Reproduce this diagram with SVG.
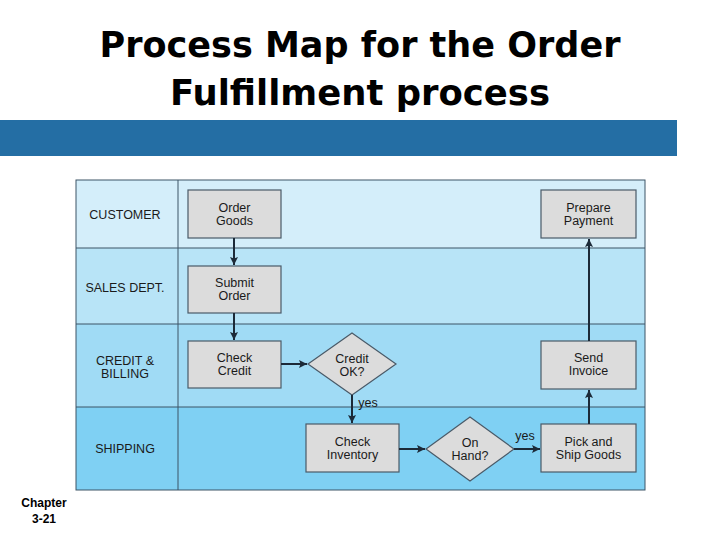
<svg xmlns="http://www.w3.org/2000/svg" width="720" height="540" viewBox="0 0 720 540">
<defs>
<marker id="ah2" viewBox="0 0 10 10" refX="10" refY="5" markerWidth="9" markerHeight="8" orient="auto" markerUnits="userSpaceOnUse">
<path d="M0,0 L10,5 L0,10 L2,5 z" fill="#1c2a38"/>
</marker>
<style>
.title{font-family:"DejaVu Sans",Verdana,sans-serif;font-weight:bold;font-size:35px;fill:#000;text-anchor:middle}
.lane{font-family:"Liberation Sans",Arial,sans-serif;font-size:12.5px;fill:#1a1a1a;text-anchor:middle}
.nt{font-family:"Liberation Sans",Arial,sans-serif;font-size:12.5px;fill:#1a1a1a;text-anchor:middle}
.box{fill:#dcdcdc;stroke:#4a5a68;stroke-width:1.2}
.lline{stroke:#3d5466;stroke-width:1;fill:none}
.conn{stroke:#1c2a38;stroke-width:2;fill:none;marker-end:url(#ah2)}
.foot{font-family:"Liberation Sans",Arial,sans-serif;font-weight:bold;font-size:12px;fill:#000;text-anchor:middle}
</style>
</defs>
<rect width="720" height="540" fill="#fff"/>
<text class="title" x="360" y="57" textLength="521" lengthAdjust="spacingAndGlyphs">Process Map for the Order</text>
<text class="title" x="360" y="105" textLength="380" lengthAdjust="spacingAndGlyphs">Fulfillment process</text>
<rect x="0" y="120" width="677" height="36" fill="#246ea4"/>
<g id="lanes">
<rect x="76" y="180" width="569" height="68" fill="#d4eefa"/>
<rect x="76" y="248" width="569" height="76" fill="#b8e4f7"/>
<rect x="76" y="324" width="569" height="83" fill="#a0dbf5"/>
<rect x="76" y="407" width="569" height="83" fill="#7fd0f3"/>
<rect x="76" y="180" width="569" height="310" class="lline"/>
<line x1="76" y1="248" x2="645" y2="248" class="lline"/>
<line x1="76" y1="324" x2="645" y2="324" class="lline"/>
<line x1="76" y1="407" x2="645" y2="407" class="lline"/>
<line x1="178" y1="180" x2="178" y2="490" class="lline"/>
<text class="lane" x="125" y="219">CUSTOMER</text>
<text class="lane" x="125" y="292">SALES DEPT.</text>
<text class="lane" x="125" y="364.5">CREDIT &amp;</text>
<text class="lane" x="125" y="378">BILLING</text>
<text class="lane" x="125" y="453">SHIPPING</text>
</g>
<g id="order-goods"><rect class="box" x="188" y="190" width="93" height="48"/><text class="nt" x="234.5" y="211.5">Order</text><text class="nt" x="234.5" y="225">Goods</text></g>
<g id="submit-order"><rect class="box" x="188" y="266" width="93" height="47"/><text class="nt" x="234.5" y="286.5">Submit</text><text class="nt" x="234.5" y="300">Order</text></g>
<g id="check-credit"><rect class="box" x="188" y="341" width="93" height="47"/><text class="nt" x="234.5" y="361.5">Check</text><text class="nt" x="234.5" y="375">Credit</text></g>
<g id="credit-ok"><polygon class="box" points="352,333 396,364 352,395 308,364"/><text class="nt" x="352" y="362.5">Credit</text><text class="nt" x="352" y="376">OK?</text></g>
<g id="check-inventory"><rect class="box" x="306" y="424" width="93" height="48"/><text class="nt" x="352.5" y="445.5">Check</text><text class="nt" x="352.5" y="459">Inventory</text></g>
<g id="on-hand"><polygon class="box" points="470,417 514,449 470,481 426,449"/><text class="nt" x="470" y="446.5">On</text><text class="nt" x="470" y="460">Hand?</text></g>
<g id="pick-ship"><rect class="box" x="541" y="424" width="95" height="48"/><text class="nt" x="588.5" y="445.5">Pick and</text><text class="nt" x="588.5" y="459">Ship Goods</text></g>
<g id="send-invoice"><rect class="box" x="541" y="341" width="95" height="48"/><text class="nt" x="588.5" y="361.5">Send</text><text class="nt" x="588.5" y="375">Invoice</text></g>
<g id="prepare-payment"><rect class="box" x="541" y="190" width="95" height="48"/><text class="nt" x="588.5" y="211.5">Prepare</text><text class="nt" x="588.5" y="225">Payment</text></g>
<g id="connectors">
<line class="conn" x1="234" y1="238" x2="234" y2="265"/>
<line class="conn" x1="234" y1="313" x2="234" y2="340"/>
<line class="conn" x1="281" y1="364" x2="307" y2="364"/>
<line class="conn" x1="352" y1="395" x2="352" y2="423"/>
<line class="conn" x1="399" y1="449" x2="425" y2="449"/>
<line class="conn" x1="514" y1="449" x2="540" y2="449"/>
<line class="conn" x1="589" y1="424" x2="589" y2="390"/>
<line class="conn" x1="589" y1="341" x2="589" y2="239"/>
<text class="nt" x="368" y="407">yes</text>
<text class="nt" x="525" y="440">yes</text>
</g>
<text class="foot" x="44" y="507">Chapter</text>
<text class="foot" x="44" y="523">3-21</text>
</svg>
